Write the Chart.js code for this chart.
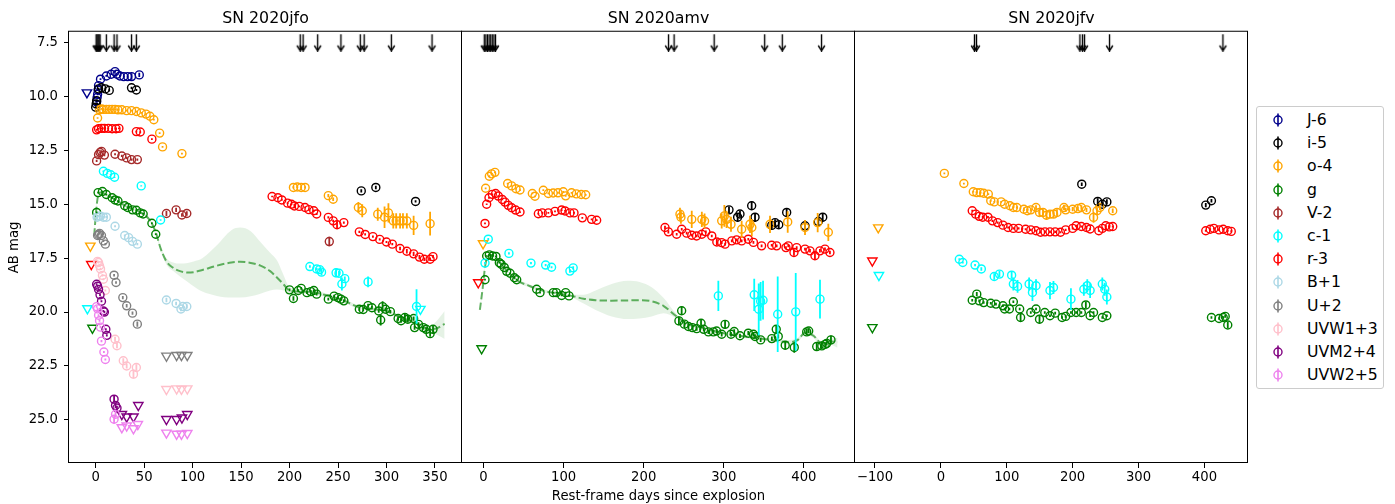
<!DOCTYPE html>
<html><head><meta charset="utf-8">
<script src="https://cdn.jsdelivr.net/npm/chart.js@4.4.0/dist/chart.umd.min.js"></script>
<style>
html,body{margin:0;padding:0;background:#fff;}
#wrap{position:relative;width:1395px;height:504px;overflow:hidden;font-family:"DejaVu Sans",sans-serif;background:#fff;}
#wrap canvas.c{position:absolute;left:0;top:0;}
#legend{position:absolute;left:1256px;top:106px;width:128px;height:283px;border:1px solid #cccccc;border-radius:3px;background:#fff;box-sizing:border-box;}
.item{position:absolute;left:0;width:126px;height:20px;}
.item canvas{position:absolute;left:11px;top:0;}
.item span{position:absolute;left:50px;top:0;font-size:15.7px;line-height:20px;color:#000;white-space:nowrap;}
</style></head><body>
<div id="wrap">
<canvas id="c1" class="c" width="1395" height="504"></canvas>
<canvas id="c2" class="c" width="1395" height="504"></canvas>
<canvas id="c3" class="c" width="1395" height="504"></canvas>
<div id="legend"></div>
</div>
<script>
// ---------------- tick labels ----------------
const yTicks = [7.5, 10.0, 12.5, 15.0, 17.5, 20.0, 22.5, 25.0];
const jfoXTicks = [0, 50, 100, 150, 200, 250, 300, 350];
const amvXTicks = [0, 100, 200, 300, 400];
const jfvXTicks = [-100, 0, 100, 200, 300, 400];
const panelTitles = ['SN 2020jfo', 'SN 2020amv', 'SN 2020jfv'];
const xLabel = 'Rest-frame days since explosion';
const yLabel = 'AB mag';

// ---------------- legend / bands ----------------
const bandLabels = ['J-6', 'i-5', 'o-4', 'g', 'V-2', 'c-1', 'r-3', 'B+1', 'U+2', 'UVW1+3', 'UVM2+4', 'UVW2+5'];
const bandColors = ['#00008b', '#000000', '#ffa500', '#008000', '#a52a2a', '#00ffff', '#ff0000', '#add8e6', '#808080', '#ffc0cb', '#800080', '#ee82ee'];

// ================= SN 2020jfo =================
const jfo_J_days = [1, 1.5, 2, 2.5, 3, 5, 11, 16, 20, 22, 25, 29, 33, 37, 45];
const jfo_J_mag  = [10.25, 10.05, 9.9, 9.7, 9.5, 9.2, 9.05, 8.97, 8.85, 8.97, 9.05, 9.08, 9.08, 9.08, 9.0];
const jfo_J_err  = [0.04, 0.04, 0.04, 0.04, 0.04, 0.04, 0.04, 0.04, 0.04, 0.04, 0.04, 0.05, 0.06, 0.15, 0.1];
const jfo_J_ulDays = [-9];
const jfo_J_ulMag  = [9.82];

const jfo_i_days = [0, 0.5, 1, 3, 6, 10, 14, 37, 42, 274, 289, 330];
const jfo_i_mag  = [10.5, 10.35, 10.2, 9.65, 9.6, 9.65, 9.72, 9.6, 9.7, 14.38, 14.22, 14.87];
const jfo_i_err  = [0.05, 0.05, 0.05, 0.05, 0.05, 0.05, 0.05, 0.05, 0.05, 0.08, 0.08, 0.05];

const jfo_o_days = [2, 4, 6, 8, 11, 14, 17, 20, 23, 27, 32, 37, 42, 47, 52, 56, 60, 66, 69, 89,
  204, 208, 212, 216, 240, 245, 271, 275, 291, 298, 302, 307, 310, 314, 317, 321, 328, 345];
const jfo_o_mag  = [11.0, 10.62, 10.58, 10.6, 10.6, 10.6, 10.6, 10.6, 10.62, 10.62, 10.66, 10.66, 10.7, 10.76, 10.82, 10.92, 11.08, 11.7, 12.34, 12.65,
  14.22, 14.2, 14.22, 14.22, 14.6, 14.77, 15.15, 15.3, 15.46, 15.6, 15.4, 15.77, 15.77, 15.77, 15.77, 15.77, 15.98, 15.9];
const jfo_o_err  = [0.04, 0.04, 0.04, 0.04, 0.04, 0.04, 0.04, 0.04, 0.04, 0.04, 0.04, 0.04, 0.04, 0.04, 0.04, 0.04, 0.04, 0.04, 0.04, 0.04,
  0.05, 0.05, 0.05, 0.05, 0.08, 0.08, 0.25, 0.3, 0.3, 0.5, 0.45, 0.35, 0.35, 0.35, 0.35, 0.35, 0.45, 0.55];
const jfo_o_ulDays = [-5.5];
const jfo_o_ulMag  = [16.93];

const jfo_g_days = [1, 2.5, 7, 11, 17, 20, 23, 30, 33, 38, 42, 46, 49, 58, 62,
  200, 204, 209, 212, 218, 222, 225, 228, 240, 246, 250, 253, 256, 272, 276, 281, 285, 292, 294, 296, 299, 304, 312, 315, 319, 322, 328, 329, 333, 338, 341, 345, 348];
const jfo_g_mag  = [15.38, 14.46, 14.41, 14.55, 14.7, 14.8, 14.85, 15.07, 15.15, 15.26, 15.28, 15.4, 15.45, 15.88, 16.39,
  18.97, 19.37, 19.0, 18.9, 19.1, 19.05, 19.0, 19.17, 19.4, 19.26, 19.33, 19.4, 19.48, 19.87, 19.88, 19.7, 19.8, 19.95, 20.37, 19.75, 19.87, 19.98, 20.3, 20.4, 20.25, 20.33, 20.3, 20.72, 20.57, 20.72, 20.8, 21.0, 20.8];
const jfo_g_err  = [0.04, 0.04, 0.04, 0.04, 0.04, 0.04, 0.04, 0.04, 0.04, 0.04, 0.04, 0.04, 0.04, 0.04, 0.04,
  0.06, 0.1, 0.06, 0.06, 0.06, 0.06, 0.06, 0.06, 0.06, 0.06, 0.06, 0.06, 0.06, 0.08, 0.08, 0.08, 0.08, 0.08, 0.25, 0.25, 0.08, 0.08, 0.1, 0.1, 0.2, 0.15, 0.1, 0.1, 0.1, 0.1, 0.1, 0.15, 0.2];
const jfo_g_ulDays = [-3.3];
const jfo_g_ulMag  = [20.74];

const jfo_V_days = [1, 3, 4.5, 6, 9, 20, 27, 32, 37, 43, 73, 83, 89, 94, 241];
const jfo_V_mag  = [12.99, 12.7, 12.6, 12.55, 12.72, 12.68, 12.76, 12.85, 12.93, 12.93, 15.43, 15.26, 15.5, 15.43, 16.73];
const jfo_V_err  = [0.05, 0.05, 0.05, 0.05, 0.05, 0.05, 0.05, 0.05, 0.05, 0.05, 0.12, 0.1, 0.08, 0.1, 0.22];

const jfo_c_days = [8, 12, 15.5, 19.5, 47, 67, 221, 228, 231, 233, 248, 251, 254, 257, 281, 331];
const jfo_c_mag  = [13.47, 13.57, 13.63, 13.75, 14.15, 15.73, 17.89, 18.0, 18.03, 18.15, 18.18, 18.2, 18.7, 18.45, 18.6, 19.74];
const jfo_c_err  = [0.03, 0.03, 0.03, 0.03, 0.03, 0.03, 0.06, 0.06, 0.08, 0.15, 0.2, 0.1, 0.3, 0.1, 0.25, 0.8];
const jfo_c_ulDays = [-8.5, 335];
const jfo_c_ulMag  = [19.83, 19.86];

const jfo_r_days = [1, 3, 6, 9, 13, 17, 21, 24, 42, 46, 58,
  182, 188, 192, 198, 202, 205, 210, 216, 220, 225, 228, 240, 245, 249, 256,
  272, 278, 286, 293, 300, 306, 314, 321, 328, 334, 339, 345, 348];
const jfo_r_mag  = [11.55, 11.5, 11.48, 11.48, 11.48, 11.5, 11.5, 11.48, 11.63, 11.65, 11.98,
  14.64, 14.7, 14.8, 14.95, 15.0, 15.08, 15.1, 15.15, 15.25, 15.3, 15.45, 15.61, 15.77, 15.95, 15.85,
  16.28, 16.4, 16.5, 16.63, 16.75, 16.85, 17.05, 17.18, 17.3, 17.45, 17.55, 17.55, 17.43];
const jfo_r_err  = [0.04, 0.04, 0.04, 0.04, 0.04, 0.04, 0.04, 0.04, 0.04, 0.04, 0.04,
  0.04, 0.04, 0.04, 0.04, 0.04, 0.1, 0.04, 0.04, 0.05, 0.05, 0.05, 0.05, 0.05, 0.15, 0.05,
  0.05, 0.05, 0.05, 0.05, 0.05, 0.05, 0.08, 0.1, 0.1, 0.1, 0.08, 0.08, 0.08];
const jfo_r_ulDays = [-4.5];
const jfo_r_ulMag  = [17.78];

const jfo_B_days = [1.5, 3, 5, 8, 11, 20, 30, 34, 38, 43, 73, 83, 88, 90, 94];
const jfo_B_mag  = [15.6, 15.55, 15.55, 15.6, 15.6, 16.02, 16.45, 16.55, 16.72, 16.85, 19.44, 19.6, 19.86, 19.74, 19.74];
const jfo_B_err  = [0.05, 0.05, 0.05, 0.05, 0.05, 0.05, 0.05, 0.05, 0.05, 0.05, 0.1, 0.08, 0.1, 0.08, 0.1];

const jfo_U_days = [2, 3, 4, 6, 8, 10, 19, 21, 28, 32, 38, 43];
const jfo_U_mag  = [16.45, 16.4, 16.35, 16.45, 16.7, 16.85, 18.29, 18.63, 19.33, 19.71, 20.05, 20.56];
const jfo_U_err  = [0.05, 0.05, 0.05, 0.05, 0.05, 0.05, 0.06, 0.06, 0.08, 0.08, 0.08, 0.12];
const jfo_U_ulDays = [73, 83.5, 88.5, 94.5];
const jfo_U_ulMag  = [22.03, 22.0, 22.0, 22.0];

const jfo_W1_days = [2, 3, 4, 5, 7, 8, 10, 20, 22, 28.5, 32, 39, 42];
const jfo_W1_mag  = [17.65, 17.7, 17.85, 18.0, 18.3, 18.48, 19.0, 21.26, 21.56, 22.26, 22.5, 22.88, 22.57];
const jfo_W1_err  = [0.05, 0.05, 0.05, 0.05, 0.05, 0.05, 0.05, 0.12, 0.12, 0.12, 0.12, 0.2, 0.15];
const jfo_W1_ulDays = [73, 83.5, 88.5, 94.5];
const jfo_W1_ulMag  = [23.58, 23.55, 23.57, 23.55];

const jfo_M2_days = [1, 2, 3, 4.5, 6, 8, 9, 10.5, 11.5, 19, 20.5, 22];
const jfo_M2_mag  = [18.71, 18.8, 18.95, 19.2, 19.5, 19.95, 20.0, 20.8, 21.08, 24.04, 24.33, 24.45];
const jfo_M2_err  = [0.05, 0.05, 0.05, 0.05, 0.05, 0.05, 0.05, 0.05, 0.05, 0.15, 0.12, 0.1];
const jfo_M2_ulDays = [27, 32, 39, 44, 73, 83.5, 89, 94.5];
const jfo_M2_ulMag  = [24.74, 24.85, 24.85, 24.32, 24.97, 24.97, 24.9, 24.74];

const jfo_W2_days = [1, 2, 3, 4, 5, 6, 8.5, 10, 19, 20.5];
const jfo_W2_mag  = [19.75, 19.85, 20.15, 20.4, 20.7, 21.35, 21.85, 22.2, 24.97, 24.74];
const jfo_W2_err  = [0.05, 0.05, 0.05, 0.05, 0.05, 0.05, 0.05, 0.05, 0.2, 0.15];
const jfo_W2_ulDays = [27, 32, 39, 43.5, 73, 83.5, 88.5, 94.5];
const jfo_W2_ulMag  = [25.35, 25.27, 25.4, 25.2, 25.6, 25.65, 25.65, 25.62];

const jfo_gpDays = [-1.5, 0.5, 2.5, 5, 15, 30, 48, 56, 62, 67, 73, 80, 87, 95, 101, 110, 125, 140, 149, 160, 170, 180, 187, 194, 200, 210, 225, 240, 255, 270, 285, 300, 315, 330, 345, 352, 360];
const jfo_gpMid  = [16.45, 15.3, 14.6, 14.45, 14.65, 15.05, 15.42, 15.75, 16.3, 17.05, 17.65, 17.95, 18.1, 18.17, 18.15, 18.05, 17.85, 17.7, 17.67, 17.72, 17.85, 18.1, 18.4, 18.72, 19.0, 19.05, 19.08, 19.25, 19.45, 19.75, 19.85, 19.95, 20.25, 20.5, 20.8, 20.75, 20.55];
const jfo_gpLo   = [16.35, 15.2, 14.52, 14.38, 14.58, 14.98, 15.35, 15.67, 16.2, 16.95, 17.5, 17.7, 17.75, 17.72, 17.65, 17.5, 16.9, 16.2, 16.08, 16.25, 16.75, 17.25, 17.6, 18.3, 18.85, 18.95, 18.98, 19.17, 19.37, 19.66, 19.77, 19.87, 20.16, 20.4, 20.65, 20.4, 19.95];
const jfo_gpHi   = [16.55, 15.4, 14.68, 14.52, 14.72, 15.12, 15.49, 15.83, 16.4, 17.15, 17.8, 18.1, 18.35, 18.6, 18.8, 19.05, 19.25, 19.33, 19.33, 19.27, 19.15, 19.0, 18.95, 19.0, 19.12, 19.15, 19.18, 19.33, 19.53, 19.84, 19.93, 20.03, 20.34, 20.6, 20.95, 21.05, 21.25];

const jfo_specDays = [0.5, 1.5, 2.5, 3.5, 4.5, 11, 19, 22, 37, 42, 211, 214, 229, 253, 273, 277, 305, 347];

// ================= SN 2020amv =================
const amv_i_days = [306.5, 317.3, 320.2, 334.8, 339, 359.8, 364, 368.6, 378.5, 401.4, 418, 423.5];
const amv_i_mag  = [15.26, 15.6, 15.45, 15.07, 15.6, 15.98, 15.85, 15.95, 15.38, 16.0, 15.8, 15.6];
const amv_i_err  = [0.15, 0.2, 0.15, 0.2, 0.2, 0.2, 0.15, 0.15, 0.2, 0.25, 0.2, 0.2];

const amv_o_days = [2.7, 7.3, 10.2, 14.3, 30.2, 35.2, 40.6, 45.6, 61, 64.3, 74.7, 81, 87, 93, 99.6, 102.6, 110, 116, 122, 127.6,
  245.3, 246.5, 260, 272.6, 276, 297.4, 300.7, 303.5, 309, 322.3, 332.7, 335, 357.7, 379.8, 401.4, 417.2, 430.5];
const amv_o_mag  = [14.26, 13.7, 13.59, 13.52, 14.04, 14.15, 14.28, 14.34, 14.5, 14.63, 14.35, 14.5, 14.48, 14.47, 14.42, 14.61, 14.47, 14.52, 14.55, 14.56,
  15.46, 15.6, 15.7, 15.7, 15.78, 15.77, 15.54, 15.7, 15.93, 16.16, 15.93, 16.08, 15.93, 15.82, 16.08, 15.85, 16.3];
const amv_o_err  = [0.04, 0.04, 0.04, 0.04, 0.04, 0.04, 0.04, 0.04, 0.04, 0.04, 0.04, 0.04, 0.04, 0.04, 0.04, 0.04, 0.04, 0.04, 0.04, 0.04,
  0.3, 0.3, 0.4, 0.35, 0.35, 0.35, 0.5, 0.4, 0.35, 0.4, 0.4, 0.4, 0.4, 0.5, 0.35, 0.45, 0.4];
const amv_o_ulDays = [-0.5];
const amv_o_ulMag  = [16.82];

const amv_g_days = [1.9, 4, 7.3, 11.4, 15.6, 19.8, 22, 26, 29, 33.2, 38.6, 41.5, 66.4, 70.6, 87.2, 91, 97.6, 102.6, 106.8,
  244, 247.4, 250.8, 255.8, 260.8, 266.2, 271.6, 275, 280.8, 287, 291, 297.4, 301.6, 309, 313, 320.2, 330.6, 337, 339, 346, 360, 365.5, 368, 376.7, 388, 403.5, 406, 416, 422.4, 426.5, 428.5, 433.8];
const amv_g_mag  = [18.5, 17.4, 17.35, 17.4, 17.42, 17.71, 17.78, 17.93, 18.11, 18.2, 18.41, 18.5, 18.94, 19.1, 19.1, 19.1, 19.23, 19.1, 19.25,
  20.41, 19.94, 20.56, 20.67, 20.72, 20.77, 20.52, 20.8, 20.92, 20.92, 20.88, 21.03, 20.57, 21.03, 20.9, 21.1, 20.98, 21.03, 21.13, 21.29, 21.23, 20.8, 21.13, 21.54, 21.64, 20.92, 20.88, 21.6, 21.57, 21.5, 21.45, 21.29];
const amv_g_err  = [0.04, 0.04, 0.04, 0.04, 0.04, 0.04, 0.04, 0.04, 0.04, 0.04, 0.04, 0.04, 0.04, 0.04, 0.04, 0.04, 0.04, 0.04, 0.04,
  0.2, 0.2, 0.15, 0.1, 0.1, 0.1, 0.2, 0.1, 0.1, 0.1, 0.1, 0.1, 0.2, 0.1, 0.1, 0.1, 0.1, 0.1, 0.1, 0.1, 0.1, 0.2, 0.1, 0.2, 0.25, 0.15, 0.1, 0.2, 0.15, 0.1, 0.1, 0.2];
const amv_g_ulDays = [-2.3];
const amv_g_ulMag  = [21.69];

const amv_c_days = [1.9, 6, 31.8, 59.3, 77.6, 85, 107.9, 112, 293.2, 338, 343.6, 346, 349, 367.3, 389.8, 420.1];
const amv_c_mag  = [17.73, 16.62, 17.28, 17.73, 17.82, 17.92, 18.1, 17.95, 19.25, 19.2, 19.87, 19.5, 19.45, 20.1, 19.99, 19.4];
const amv_c_err  = [0.05, 0.05, 0.05, 0.05, 0.05, 0.05, 0.08, 0.08, 0.7, 0.75, 1.2, 0.9, 0.9, 1.75, 1.8, 0.9];

const amv_r_days = [1.9, 4, 6.9, 11, 15.2, 18.5, 23.5, 26.8, 31, 35.2, 40.2, 45.6, 68.5, 73.4, 81, 89.3, 97.6, 101.8, 108, 113, 123.4, 135, 141.3,
  226.6, 230.8, 241.2, 247.5, 253.7, 260, 266, 272.6, 277.6, 285, 291.3, 297.4, 301.6, 310, 316, 322.3, 330.6, 337, 347.2, 359.8, 366, 377.6, 380.5, 387.6, 391, 401.4, 407.6, 413.8, 420, 426.3, 432.5];
const amv_r_mag  = [15.89, 15.0, 14.7, 14.54, 14.5, 14.62, 14.78, 14.9, 15.05, 15.16, 15.27, 15.36, 15.44, 15.4, 15.4, 15.33, 15.27, 15.31, 15.4, 15.4, 15.63, 15.7, 15.74,
  16.08, 16.28, 16.39, 16.16, 16.34, 16.44, 16.47, 16.39, 16.28, 16.47, 16.75, 16.78, 16.85, 16.7, 16.65, 16.7, 16.62, 16.77, 16.93, 16.9, 16.93, 17.01, 16.93, 17.24, 17.01, 17.08, 17.16, 17.39, 17.16, 17.08, 17.24];
const amv_r_err  = [0.04, 0.04, 0.04, 0.04, 0.04, 0.04, 0.04, 0.04, 0.04, 0.04, 0.04, 0.04, 0.04, 0.04, 0.04, 0.04, 0.04, 0.04, 0.04, 0.04, 0.04, 0.04, 0.04,
  0.08, 0.08, 0.06, 0.06, 0.06, 0.06, 0.06, 0.06, 0.06, 0.06, 0.15, 0.06, 0.06, 0.06, 0.06, 0.06, 0.06, 0.06, 0.06, 0.06, 0.06, 0.06, 0.06, 0.15, 0.06, 0.06, 0.08, 0.2, 0.08, 0.08, 0.08];
const amv_r_ulDays = [-6.5];
const amv_r_ulMag  = [18.63];

const amv_gpDays = [-4.5, -1, 2, 5, 9, 15, 25, 35, 45, 55, 65, 78, 90, 100, 110, 125, 140, 160, 180, 195, 210, 225, 240, 255, 270, 290, 310, 330, 350, 365, 380, 392, 402, 412, 422, 432, 442];
const amv_gpMid  = [19.9, 18.9, 17.9, 17.45, 17.35, 17.45, 17.9, 18.3, 18.6, 18.75, 18.9, 19.05, 19.12, 19.18, 19.25, 19.38, 19.45, 19.47, 19.46, 19.45, 19.5, 19.72, 20.17, 20.55, 20.7, 20.9, 21.05, 21.15, 21.25, 21.32, 21.4, 21.3, 20.95, 21.1, 21.45, 21.35, 21.4];
const amv_gpLo   = [19.8, 18.8, 17.82, 17.38, 17.28, 17.38, 17.83, 18.23, 18.53, 18.68, 18.83, 18.98, 19.05, 19.11, 19.18, 19.2, 19.0, 18.7, 18.55, 18.6, 18.85, 19.35, 20.05, 20.47, 20.62, 20.82, 20.97, 21.07, 21.17, 21.24, 21.3, 21.2, 20.87, 21.0, 21.35, 21.22, 21.2];
const amv_gpHi   = [20.0, 19.0, 17.98, 17.52, 17.42, 17.52, 17.97, 18.37, 18.67, 18.82, 18.97, 19.12, 19.19, 19.25, 19.32, 19.6, 19.9, 20.2, 20.32, 20.3, 20.2, 20.05, 20.27, 20.63, 20.78, 20.98, 21.13, 21.23, 21.33, 21.4, 21.5, 21.4, 21.03, 21.2, 21.55, 21.5, 21.65];

const amv_specDays = [1, 3, 5, 7, 9, 11, 13, 15, 231, 238, 288, 351, 373, 422];

// ================= SN 2020jfv =================
const jfv_i_days = [213.8, 238, 245, 251.9, 402, 410.6];
const jfv_i_mag  = [14.07, 14.87, 15.0, 14.89, 15.04, 14.84];
const jfv_i_err  = [0.08, 0.15, 0.1, 0.12, 0.1, 0.08];

const jfv_o_days = [5.3, 34.9, 49.2, 54.5, 59.8, 65, 72, 75.7, 81, 91.5, 96.8, 104.8, 110, 115.3, 126, 131.2, 136.5, 144.4, 149.7, 155, 160.3, 165.6, 171, 176.2, 186.8, 189.4, 200, 208, 213.2, 221, 231.7, 237, 241.3, 260.8];
const jfv_o_mag  = [13.57, 14.04, 14.42, 14.46, 14.46, 14.49, 14.53, 14.84, 14.89, 14.89, 15.0, 15.07, 15.15, 15.15, 15.23, 15.3, 15.26, 15.15, 15.38, 15.38, 15.51, 15.46, 15.46, 15.38, 15.15, 15.26, 15.23, 15.2, 15.15, 15.26, 15.61, 15.3, 15.15, 15.3];
const jfv_o_err  = [0.04, 0.04, 0.04, 0.04, 0.04, 0.04, 0.04, 0.04, 0.04, 0.04, 0.04, 0.04, 0.04, 0.06, 0.08, 0.08, 0.08, 0.1, 0.2, 0.15, 0.2, 0.18, 0.18, 0.15, 0.12, 0.1, 0.1, 0.1, 0.1, 0.1, 0.25, 0.15, 0.12, 0.1];
const jfv_o_ulDays = [-95];
const jfv_o_ulMag  = [16.08];

const jfv_g_days = [47.6, 54.5, 58.2, 65, 75.7, 83.6, 94.2, 96.8, 104, 110, 119.6, 121, 136.5, 144.4, 149.7, 157.7, 165.6, 173.5, 184, 189.4, 197.4, 205.3, 213.2, 220, 226.5, 231.7, 245, 251.9, 410.6, 422.2, 428.5, 431.5, 435.4];
const jfv_g_mag  = [19.45, 19.17, 19.48, 19.56, 19.59, 19.63, 19.71, 19.86, 19.86, 19.52, 19.86, 20.25, 20.02, 19.86, 20.33, 20.02, 20.17, 20.05, 20.25, 20.2, 20.02, 20.02, 20.02, 19.67, 20.17, 20.02, 20.25, 20.17, 20.25, 20.3, 20.25, 20.2, 20.6];
const jfv_g_err  = [0.06, 0.1, 0.06, 0.06, 0.06, 0.06, 0.06, 0.06, 0.06, 0.06, 0.06, 0.2, 0.06, 0.06, 0.2, 0.06, 0.06, 0.06, 0.06, 0.06, 0.06, 0.06, 0.06, 0.15, 0.06, 0.06, 0.06, 0.06, 0.06, 0.06, 0.06, 0.06, 0.15];
const jfv_g_ulDays = [-104];
const jfv_g_ulMag  = [20.71];

const jfv_c_days = [28, 33.3, 51.9, 61.4, 81, 88.9, 107.4, 110, 116.4, 133.9, 139, 144.4, 165.6, 170.9, 197.4, 217, 222.2, 226.5, 245, 248.7, 251.9];
const jfv_c_mag  = [17.55, 17.7, 17.82, 18.0, 18.35, 18.24, 18.29, 18.7, 18.81, 18.7, 19.09, 18.78, 19.0, 18.86, 19.4, 18.94, 18.78, 19.0, 18.7, 18.94, 19.3];
const jfv_c_err  = [0.05, 0.05, 0.05, 0.08, 0.15, 0.15, 0.15, 0.3, 0.3, 0.3, 0.4, 0.3, 0.4, 0.3, 0.5, 0.3, 0.3, 0.35, 0.3, 0.3, 0.35];
const jfv_c_ulDays = [-94];
const jfv_c_ulMag  = [18.29];

const jfv_r_days = [47.6, 52.9, 58.2, 63.5, 71.5, 78.3, 86.2, 94.2, 102, 110, 118, 128.6, 136.5, 144.4, 151.3, 158, 165.6, 173.5, 181.5, 189.4, 200, 205.3, 213.2, 221, 226.5, 239.7, 245, 250.3, 255.6, 260.8, 402, 408.7, 414.3, 422.2, 428.5, 435.4, 440.7];
const jfv_r_mag  = [15.3, 15.46, 15.56, 15.6, 15.6, 15.77, 15.85, 15.97, 16.08, 16.12, 16.12, 16.16, 16.19, 16.23, 16.3, 16.28, 16.28, 16.28, 16.3, 16.19, 16.12, 16.0, 16.03, 16.08, 16.15, 16.23, 16.12, 16.0, 16.05, 16.03, 16.23, 16.16, 16.12, 16.19, 16.16, 16.23, 16.26];
const jfv_r_err  = [0.05, 0.05, 0.05, 0.05, 0.05, 0.05, 0.05, 0.05, 0.05, 0.05, 0.05, 0.05, 0.05, 0.05, 0.05, 0.05, 0.05, 0.05, 0.05, 0.05, 0.05, 0.05, 0.05, 0.08, 0.05, 0.05, 0.05, 0.05, 0.05, 0.05, 0.05, 0.05, 0.05, 0.05, 0.05, 0.05, 0.05];
const jfv_r_ulDays = [-104];
const jfv_r_ulMag  = [17.62];

const jfv_specDays = [51, 54, 211, 215, 218, 256, 428];

// ---------------- helpers ----------------
Chart.defaults.font.family = '"DejaVu Sans", sans-serif';
Chart.defaults.color = '#000';
const W = 1395;
const ARROW_MAG = 7.5;

function pts(d, m) { return d.map((x, i) => ({ x: x, y: m[i] })); }
function col(label) { return bandColors[bandLabels.indexOf(label)]; }
function ord(label) { return 60 - bandLabels.indexOf(label); }
function obs(label, d, m, e) {
  return { type: 'scatter', label: label, data: pts(d, m), errs: e, borderColor: col(label), backgroundColor: 'rgba(0,0,0,0)',
    pointStyle: 'circle', pointRadius: 4, pointBorderWidth: 1.4, showLine: false, order: ord(label) };
}
function ul(label, d, m) {
  return { type: 'scatter', data: pts(d, m), borderColor: col(label), backgroundColor: 'rgba(0,0,0,0)',
    pointStyle: 'triangle', rotation: 180, pointRadius: 5.4, pointBorderWidth: 1.4, showLine: false, order: ord(label) };
}
function gp(d, mid, lo, hi) {
  return [
    { type: 'line', data: pts(d, lo), borderWidth: 0, borderColor: 'rgba(0,0,0,0)', pointRadius: 0, fill: false, cubicInterpolationMode: 'monotone', order: 200 },
    { type: 'line', data: pts(d, hi), borderWidth: 0, borderColor: 'rgba(0,0,0,0)', pointRadius: 0, fill: '-1', backgroundColor: 'rgba(0,128,0,0.1)', cubicInterpolationMode: 'monotone', order: 199 },
    { type: 'line', data: pts(d, mid), borderWidth: 2, borderColor: 'rgba(0,128,0,0.6)', borderDash: [7.4, 3.2], pointRadius: 0, fill: false, cubicInterpolationMode: 'monotone', order: 150 }
  ];
}
const arrowImg = (function () {
  const c = document.createElement('canvas'); c.width = 11; c.height = 18;
  const x = c.getContext('2d'); x.strokeStyle = '#000'; x.lineWidth = 1.4;
  x.lineCap = 'butt'; x.lineJoin = 'miter';
  x.beginPath(); x.moveTo(5.5, 0.5); x.lineTo(5.5, 17); x.stroke();
  x.beginPath(); x.moveTo(2.2, 12); x.lineTo(5.5, 17.2); x.lineTo(8.8, 12); x.stroke();
  return c;
})();
function spec(d) {
  return { type: 'scatter', data: d.map(v => ({ x: v, y: ARROW_MAG })), pointStyle: arrowImg, pointRadius: 5, showLine: false, order: 0 };
}

const errorBars = {
  id: 'errorBars',
  afterDatasetsDraw(chart) {
    const ctx = chart.ctx, ys = chart.scales.y, a = chart.chartArea;
    ctx.save();
    ctx.beginPath(); ctx.rect(a.left, a.top, a.right - a.left, a.bottom - a.top); ctx.clip();
    chart.data.datasets.forEach((ds, i) => {
      if (!ds.errs) return;
      const meta = chart.getDatasetMeta(i);
      ctx.strokeStyle = ds.borderColor; ctx.lineWidth = 1.8;
      ctx.beginPath();
      meta.data.forEach((pt, j) => {
        const v = ds.data[j].y, e = ds.errs[j];
        ctx.moveTo(pt.x, ys.getPixelForValue(v - e));
        ctx.lineTo(pt.x, ys.getPixelForValue(v + e));
      });
      ctx.stroke();
    });
    ctx.restore();
  }
};
const frame = {
  id: 'frame',
  afterDraw(chart) {
    const ctx = chart.ctx, a = chart.chartArea;
    ctx.save(); ctx.strokeStyle = '#000'; ctx.lineWidth = 1;
    ctx.strokeRect(a.left - 0.5, a.top - 0.5, a.right - a.left, a.bottom - a.top);
    ctx.restore();
  }
};
function xFmt(v) { return v < 0 ? '\u2212' + Math.abs(v) : String(v); }

function options(p) {
  const gridOpt = { drawOnChartArea: false, drawTicks: true, tickLength: 5, tickColor: '#000', tickWidth: 1, color: '#000' };
  return {
    responsive: false, animation: false, devicePixelRatio: 1, events: [],
    layout: { padding: { left: p.left, right: W - p.right, top: 0, bottom: 0 } },
    plugins: {
      legend: { display: false }, tooltip: { enabled: false },
      title: { display: true, text: p.title, fullSize: false, color: '#000', font: { size: 15.8, weight: 'normal', lineHeight: 1.25 }, padding: { top: 9, bottom: 3 } }
    },
    scales: {
      x: {
        type: 'linear', position: 'bottom', min: p.xmin, max: p.xmax,
        afterFit: (ax) => { ax.height = 41; },
        afterBuildTicks: (ax) => { ax.ticks = p.xticks.map(v => ({ value: v })); },
        ticks: { callback: xFmt, autoSkip: false, maxRotation: 0, minRotation: 0, font: { size: 13.2 }, color: '#000', padding: 2 },
        grid: gridOpt, border: { display: false },
        title: { display: !!p.xlabel, text: p.xlabel || '', font: { size: 13.2 }, color: '#000', padding: { top: 0, bottom: 0 } }
      },
      y: {
        type: 'linear', reverse: true, min: 7, max: 27, display: p.showY,
        afterFit: (ax) => { ax.width = p.showY ? 69 : 0; },
        afterBuildTicks: (ax) => { ax.ticks = yTicks.map(v => ({ value: v })); },
        ticks: { callback: v => Number(v).toFixed(1), font: { size: 13.2 }, color: '#000', padding: 6 },
        grid: gridOpt, border: { display: false },
        title: { display: p.showY, text: yLabel, font: { size: 13.2 }, color: '#000', padding: { top: 7, bottom: 0 } }
      }
    }
  };
}

// ---------------- panel 1 ----------------
const ds1 = [].concat(
  gp(jfo_gpDays, jfo_gpMid, jfo_gpLo, jfo_gpHi),
  [
    obs('J-6', jfo_J_days, jfo_J_mag, jfo_J_err), ul('J-6', jfo_J_ulDays, jfo_J_ulMag),
    obs('i-5', jfo_i_days, jfo_i_mag, jfo_i_err),
    obs('o-4', jfo_o_days, jfo_o_mag, jfo_o_err), ul('o-4', jfo_o_ulDays, jfo_o_ulMag),
    obs('g', jfo_g_days, jfo_g_mag, jfo_g_err), ul('g', jfo_g_ulDays, jfo_g_ulMag),
    obs('V-2', jfo_V_days, jfo_V_mag, jfo_V_err),
    obs('c-1', jfo_c_days, jfo_c_mag, jfo_c_err), ul('c-1', jfo_c_ulDays, jfo_c_ulMag),
    obs('r-3', jfo_r_days, jfo_r_mag, jfo_r_err), ul('r-3', jfo_r_ulDays, jfo_r_ulMag),
    obs('B+1', jfo_B_days, jfo_B_mag, jfo_B_err),
    obs('U+2', jfo_U_days, jfo_U_mag, jfo_U_err), ul('U+2', jfo_U_ulDays, jfo_U_ulMag),
    obs('UVW1+3', jfo_W1_days, jfo_W1_mag, jfo_W1_err), ul('UVW1+3', jfo_W1_ulDays, jfo_W1_ulMag),
    obs('UVM2+4', jfo_M2_days, jfo_M2_mag, jfo_M2_err), ul('UVM2+4', jfo_M2_ulDays, jfo_M2_ulMag),
    obs('UVW2+5', jfo_W2_days, jfo_W2_mag, jfo_W2_err), ul('UVW2+5', jfo_W2_ulDays, jfo_W2_ulMag),
    spec(jfo_specDays)
  ]
);
new Chart(document.getElementById('c1'), {
  type: 'scatter', data: { datasets: ds1 }, plugins: [errorBars, frame],
  options: options({ left: 0, right: 462, title: panelTitles[0], xmin: -27.5, xmax: 377.9, xticks: jfoXTicks, showY: true })
});

// ---------------- panel 2 ----------------
const ds2 = [].concat(
  gp(amv_gpDays, amv_gpMid, amv_gpLo, amv_gpHi),
  [
    obs('i-5', amv_i_days, amv_i_mag, amv_i_err),
    obs('o-4', amv_o_days, amv_o_mag, amv_o_err), ul('o-4', amv_o_ulDays, amv_o_ulMag),
    obs('g', amv_g_days, amv_g_mag, amv_g_err), ul('g', amv_g_ulDays, amv_g_ulMag),
    obs('c-1', amv_c_days, amv_c_mag, amv_c_err),
    obs('r-3', amv_r_days, amv_r_mag, amv_r_err), ul('r-3', amv_r_ulDays, amv_r_ulMag),
    spec(amv_specDays)
  ]
);
new Chart(document.getElementById('c2'), {
  type: 'scatter', data: { datasets: ds2 }, plugins: [errorBars, frame],
  options: options({ left: 462, right: 855, title: panelTitles[1], xmin: -26.8, xmax: 463.8, xticks: amvXTicks, showY: false, xlabel: xLabel })
});

// ---------------- panel 3 ----------------
const ds3 = [
  obs('i-5', jfv_i_days, jfv_i_mag, jfv_i_err),
  obs('o-4', jfv_o_days, jfv_o_mag, jfv_o_err), ul('o-4', jfv_o_ulDays, jfv_o_ulMag),
  obs('g', jfv_g_days, jfv_g_mag, jfv_g_err), ul('g', jfv_g_ulDays, jfv_g_ulMag),
  obs('c-1', jfv_c_days, jfv_c_mag, jfv_c_err), ul('c-1', jfv_c_ulDays, jfv_c_ulMag),
  obs('r-3', jfv_r_days, jfv_r_mag, jfv_r_err), ul('r-3', jfv_r_ulDays, jfv_r_ulMag),
  spec(jfv_specDays)
];
new Chart(document.getElementById('c3'), {
  type: 'scatter', data: { datasets: ds3 }, plugins: [errorBars, frame],
  options: options({ left: 855, right: 1248, title: panelTitles[2], xmin: -130.3, xmax: 466.1, xticks: jfvXTicks, showY: false })
});

// ---------------- legend ----------------
const leg = document.getElementById('legend');
bandLabels.forEach((lab, i) => {
  const row = document.createElement('div');
  row.className = 'item';
  row.style.top = (3 + 23.2 * i) + 'px';
  const c = document.createElement('canvas'); c.width = 20; c.height = 20;
  const x = c.getContext('2d');
  x.strokeStyle = bandColors[i];
  x.lineWidth = 1.4; x.beginPath(); x.arc(10, 10, 4, 0, Math.PI * 2); x.stroke();
  x.lineWidth = 1.6; x.beginPath(); x.moveTo(10, 3.5); x.lineTo(10, 16.5); x.stroke();
  const s = document.createElement('span'); s.textContent = lab;
  row.appendChild(c); row.appendChild(s); leg.appendChild(row);
});
</script>
</body></html>
